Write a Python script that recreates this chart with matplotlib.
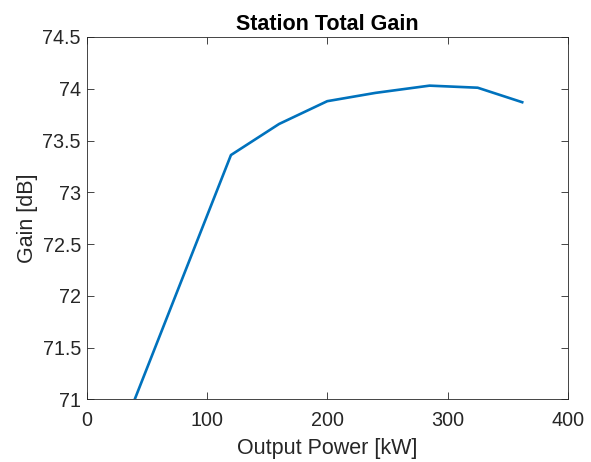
import matplotlib
matplotlib.use("Agg")
import matplotlib.pyplot as plt

power_kw = [40, 120, 160, 200, 240, 285, 325, 362]
gain_db = [71.0, 73.36, 73.66, 73.88, 73.96, 74.03, 74.01, 73.87]

plt.rcParams['font.family'] = ['Liberation Sans', 'DejaVu Sans']
fig = plt.figure(figsize=(5.91, 4.62), dpi=100)
ax = fig.add_axes([0.1464, 0.1353, 0.8146, 0.7847])
ax.plot(power_kw, gain_db, color='#0072BD', linewidth=1.9)
ax.set_xlim(0, 400)
ax.set_ylim(71, 74.5)
ax.set_xticks([0, 100, 200, 300, 400])
ax.set_yticks([71, 71.5, 72, 72.5, 73, 73.5, 74, 74.5])
ax.set_yticklabels(['71', '71.5', '72', '72.5', '73', '73.5', '74', '74.5'])
ax.tick_params(direction='in', top=True, right=True, length=5, width=0.6,
               colors='#262626', labelsize=14.2, labelcolor='#262626')
ax.tick_params(axis='y', pad=4)
ax.tick_params(axis='x', pad=8)
for s in ax.spines.values():
    s.set_color('#262626')
    s.set_linewidth(0.6)
ax.set_xlabel('Output Power [kW]', fontsize=15.5, color='#262626', labelpad=6)
ax.set_ylabel('Gain [dB]', fontsize=15.5, color='#262626', labelpad=3)
ax.set_title('Station Total Gain', fontsize=15.5, fontweight='bold', color='black', pad=5)
fig.savefig('out.png', dpi=100)
